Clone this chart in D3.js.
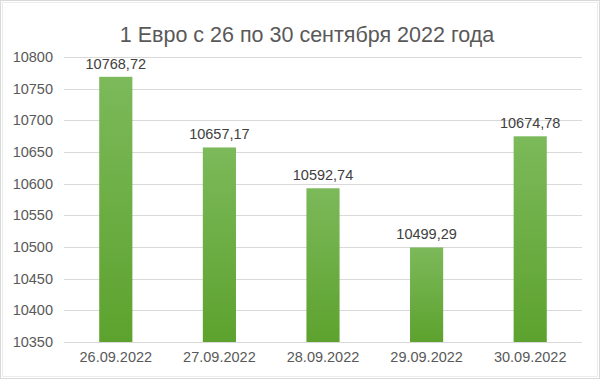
<!DOCTYPE html>
<html>
<head>
<meta charset="utf-8">
<script src="https://cdn.jsdelivr.net/npm/d3@7"></script>
<style>
  body { margin: 0; background: #fff; }
  text { font-family: Arial, "Liberation Sans", sans-serif; }
</style>
</head>
<body>
<div id="chart"></div>
<script>
var width = 600,
    height = 379;
var margin = {top: 57, right: 18, bottom: 37, left: 64};

// data
var dates = ['26.09.2022', '27.09.2022', '28.09.2022', '29.09.2022', '30.09.2022'];
var rates = [10768.72, 10657.17, 10592.74, 10499.29, 10674.78];
var yTicks = [10350, 10400, 10450, 10500, 10550, 10600, 10650, 10700, 10750, 10800];

var svg = d3.select('#chart').append('svg')
  .attr('width', width)
  .attr('height', height);

// outer frame
svg.append('rect')
  .attr('x', 0.5).attr('y', 0.5)
  .attr('width', width - 1).attr('height', height - 1)
  .attr('fill', '#fff')
  .attr('stroke', '#d9d9d9');
svg.append('rect')
  .attr('x', 2.5).attr('y', 2.5)
  .attr('width', width - 5).attr('height', height - 5)
  .attr('fill', 'none')
  .attr('stroke', '#ececec');

var defs = svg.append('defs');
var grad = defs.append('linearGradient')
  .attr('id', 'barGrad')
  .attr('x1', '0%').attr('y1', '0%')
  .attr('x2', '0%').attr('y2', '100%');
grad.append('stop').attr('offset', '0%').style('stop-color', '#7cb95a');
grad.append('stop').attr('offset', '100%').style('stop-color', '#5da22e');

var x = d3.scaleBand()
  .domain(dates)
  .range([margin.left, width - margin.right])
  .paddingInner(0.68)
  .paddingOuter(0.34);

var y = d3.scaleLinear()
  .domain([10350, 10800])
  .range([height - margin.bottom, margin.top]);

// gridlines
svg.append('g')
  .selectAll('line')
  .data(yTicks)
  .enter().append('line')
  .attr('x1', margin.left)
  .attr('x2', width - margin.right)
  .attr('y1', d => Math.round(y(d)) + 0.5)
  .attr('y2', d => Math.round(y(d)) + 0.5)
  .attr('stroke', '#d9d9d9');

// y axis labels
var yAxis = d3.axisLeft(y).tickValues(yTicks).tickSize(0).tickPadding(11)
  .tickFormat(d3.format('d'));
svg.append('g')
  .attr('transform', `translate(${margin.left},0)`)
  .call(yAxis)
  .call(g => g.select('.domain').remove())
  .call(g => g.selectAll('text')
    .attr('fill', '#595959')
    .style('font-size', '14.5px'));

// bars
svg.append('g')
  .selectAll('rect')
  .data(rates)
  .enter().append('rect')
  .attr('x', (d, i) => x(dates[i]))
  .attr('width', x.bandwidth())
  .attr('y', d => y(d))
  .attr('height', d => y(10350) - y(d))
  .attr('fill', 'url(#barGrad)');

// value labels
svg.append('g')
  .selectAll('text')
  .data(rates)
  .enter().append('text')
  .attr('x', (d, i) => x(dates[i]) + x.bandwidth() / 2)
  .attr('y', d => y(d) - 8)
  .attr('text-anchor', 'middle')
  .attr('fill', '#404040')
  .style('font-size', '14.5px')
  .text(d => d3.format('.2f')(d).replace('.', ','));

// x axis
var xAxis = d3.axisBottom(x).tickSize(0).tickPadding(10);
svg.append('g')
  .attr('transform', `translate(0,${height - margin.bottom})`)
  .call(xAxis)
  .call(g => g.select('.domain').remove())
  .call(g => g.selectAll('text')
    .attr('fill', '#595959')
    .style('font-size', '14.5px'));

// title
svg.append('text')
  .attr('x', width / 2 + 7)
  .attr('y', 42)
  .attr('text-anchor', 'middle')
  .attr('fill', '#595959')
  .style('font-size', '21.5px')
  .text('1 Евро с 26 по 30 сентября 2022 года');
</script>
</body>
</html>
